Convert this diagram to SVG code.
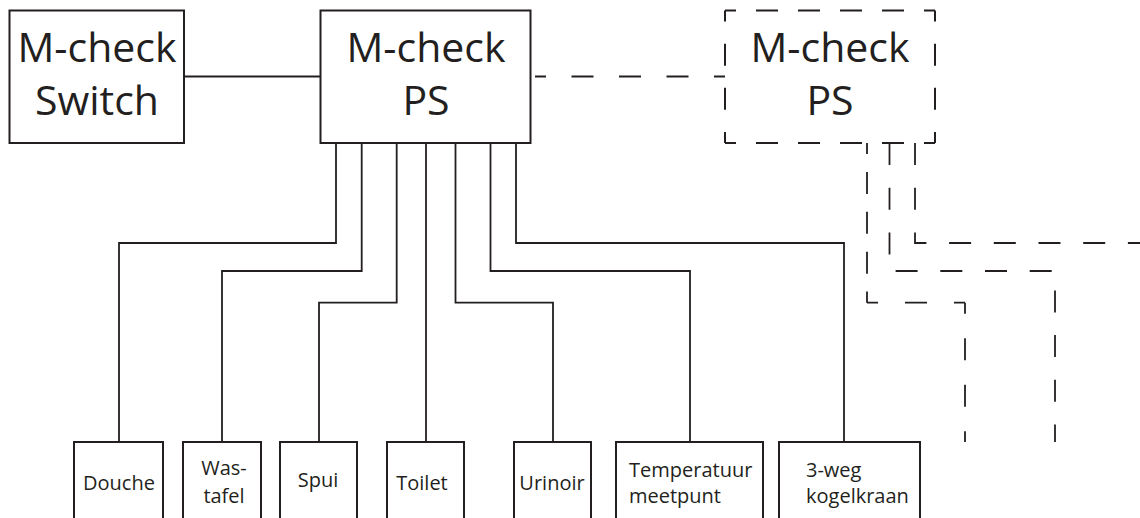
<svg xmlns="http://www.w3.org/2000/svg" width="1140" height="518" viewBox="0 0 1140 518">
<style>
.box{fill:#fff;stroke:#231f20;stroke-width:2}
.ln{fill:none;stroke:#231f20;stroke-width:1.8}
.dh{fill:none;stroke:#231f20;stroke-width:2;stroke-dasharray:22 20;stroke-dashoffset:11}
.dv{fill:none;stroke:#231f20;stroke-width:2;stroke-dasharray:22 22.17;stroke-dashoffset:11}
.d{fill:none;stroke:#231f20;stroke-width:1.8;stroke-dasharray:22 22.7}
.d1{fill:none;stroke:#231f20;stroke-width:1.8;stroke-dasharray:22 17.9;stroke-dashoffset:11}
.d2{fill:none;stroke:#231f20;stroke-width:1.8;stroke-dasharray:22 27;stroke-dashoffset:11}
.d3{fill:none;stroke:#231f20;stroke-width:1.8;stroke-dasharray:22 24.5;stroke-dashoffset:11}
.d4{fill:none;stroke:#231f20;stroke-width:1.8;stroke-dasharray:22 25.5;stroke-dashoffset:11}
.big{font-family:"Open Sans","Noto Sans","Liberation Sans",sans-serif;font-size:41px;fill:#231f20;text-anchor:middle}
.sm{font-family:"Open Sans","Noto Sans","Liberation Sans",sans-serif;font-size:20px;fill:#231f20}
.c{text-anchor:middle}
</style>
<rect width="1140" height="518" fill="#fff"/>
<g id="connectors">
<path class="ln" d="M184,76.5H320.5"/>
<path class="ln" d="M336,143V243H119V442"/>
<path class="ln" d="M361.7,143V271H222V442"/>
<path class="ln" d="M396.7,143V302.7H319V442"/>
<path class="ln" d="M426,143V442"/>
<path class="ln" d="M455.5,143V302.7H553V442"/>
<path class="ln" d="M490.5,143V271H690V442"/>
<path class="ln" d="M516,143V243H844V442"/>
<path class="d4" d="M725,76.5H535"/>
<path class="d1" d="M867,143V302.7"/>
<path class="d2" d="M867,302.7H965"/>
<path class="d3" d="M965,302.7V442"/>
<path class="d" d="M889.5,143V271H1055V442"/>
<path class="d" d="M915,143V243H1140"/>
</g>
<g id="switch">
<rect class="box" x="9.5" y="10.5" width="174.5" height="132.5"/>
<text class="big" x="97" y="62">M-check</text>
<text class="big" x="97" y="115">Switch</text>
</g>
<g id="ps">
<rect class="box" x="320.5" y="10.5" width="210" height="132.5"/>
<text class="big" x="426" y="62">M-check</text>
<text class="big" x="426" y="115">PS</text>
</g>
<g id="ps2">
<path class="dh" d="M725,10.5H935"/>
<path class="dv" d="M935,10.5V143"/>
<path class="dh" d="M935,143H725"/>
<path class="dv" d="M725,143V10.5"/>
<text class="big" x="830" y="62">M-check</text>
<text class="big" x="830" y="115">PS</text>
</g>
<g id="douche">
<rect class="box" x="74" y="442" width="89" height="90"/>
<text class="sm c" x="119" y="490">Douche</text>
</g>
<g id="wastafel">
<rect class="box" x="183" y="442" width="78" height="90"/>
<text class="sm c" x="224" y="475">Was-</text>
<text class="sm c" x="224" y="503">tafel</text>
</g>
<g id="spui">
<rect class="box" x="280" y="442" width="77" height="90"/>
<text class="sm c" x="318" y="487">Spui</text>
</g>
<g id="toilet">
<rect class="box" x="387" y="442" width="77" height="90"/>
<text class="sm c" x="422" y="490">Toilet</text>
</g>
<g id="urinoir">
<rect class="box" x="514" y="442" width="77" height="90"/>
<text class="sm c" x="552" y="490">Urinoir</text>
</g>
<g id="temperatuur">
<rect class="box" x="616" y="442" width="147" height="90"/>
<text class="sm" x="629" y="477">Temperatuur</text>
<text class="sm" x="629" y="503">meetpunt</text>
</g>
<g id="kogelkraan">
<rect class="box" x="779" y="442" width="141" height="90"/>
<text class="sm" x="806" y="477">3-weg</text>
<text class="sm" x="806" y="503">kogelkraan</text>
</g>
</svg>
